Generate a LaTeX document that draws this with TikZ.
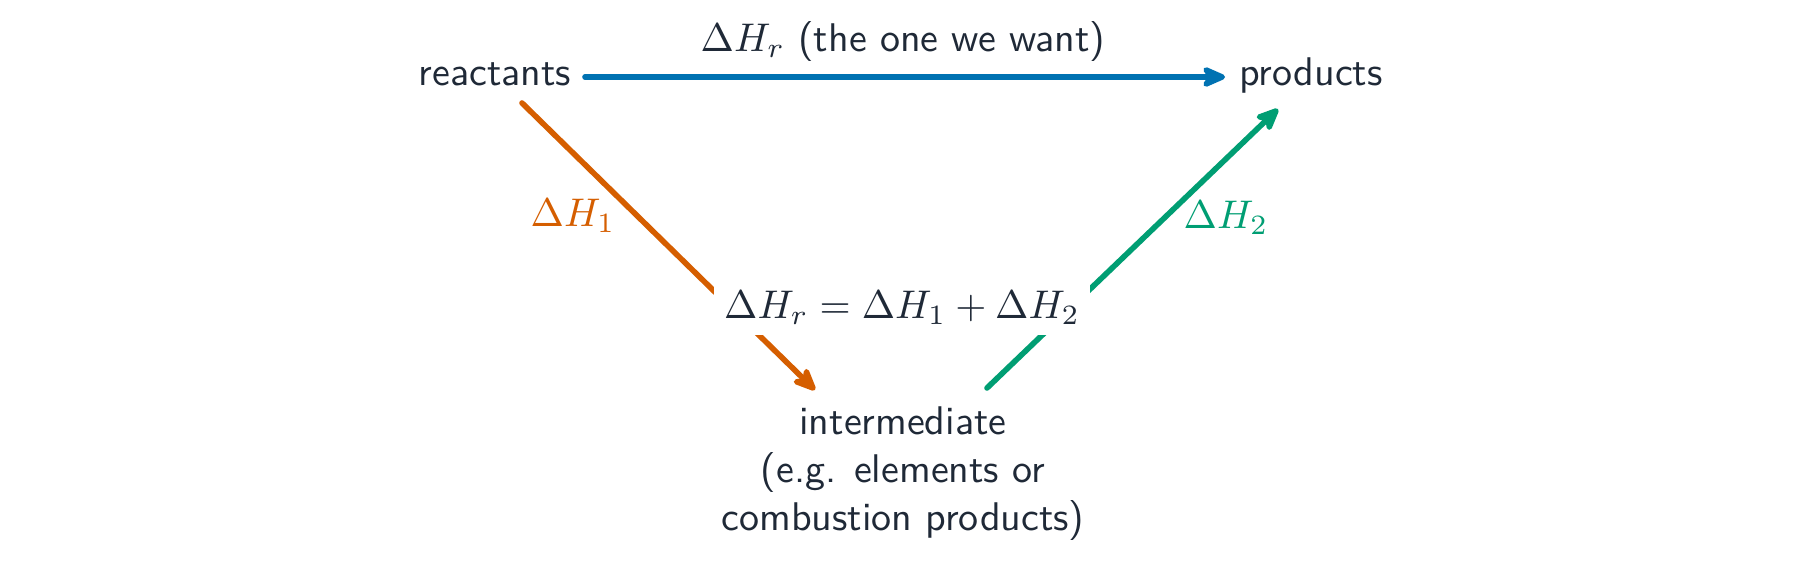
\documentclass[tikz,border=0pt]{standalone}
\usetikzlibrary{arrows.meta}
\renewcommand{\familydefault}{\sfdefault}
\definecolor{txt}{HTML}{1F2937}
\definecolor{cblue}{HTML}{0072B2}
\definecolor{corange}{HTML}{D55E00}
\definecolor{cgreen}{HTML}{009E73}
\tikzset{
  lbl/.style={text=txt, inner sep=1pt, anchor=base},
  arr/.style={line width=1.4pt, line cap=round, -{Stealth[length=7.5pt,width=6.5pt,inset=2.2pt,round]}},
}
\begin{document}
\begin{tikzpicture}[x=0.25pt,y=-0.25pt]
\useasboundingbox[fill=white] (0,0) rectangle (1800,564);
\node[lbl] (react) at (495,86) {reactants};
\node[lbl] (prod) at (1311,86) {products};
\node[lbl, align=center, anchor=north] (inter) at (903,402) {intermediate\\(e.g. elements or\\combustion products)};
\coordinate (rs) at (522,103);
\coordinate (ie) at (815,390);
\coordinate (is) at (987,388);
\coordinate (pe) at (1278,109);
\coordinate (bs) at (585,77);
\coordinate (be) at (1225,77);
\draw[arr, cblue] (bs) -- (be);
\draw[arr, corange] (rs) -- (ie);
\draw[arr, cgreen] (is) -- (pe);
\node[lbl] (top) at (903,52) {$\Delta H_r$ (the one we want)};
\node[lbl, text=corange] (h1) at (573,227) {$\Delta H_1$};
\node[lbl, text=cgreen] (h2) at (1226,229) {$\Delta H_2$};
\node[lbl, fill=white, inner sep=2.5pt] (eq) at (902,319) {$\Delta H_r = \Delta H_1 + \Delta H_2$};
\end{tikzpicture}
\end{document}
